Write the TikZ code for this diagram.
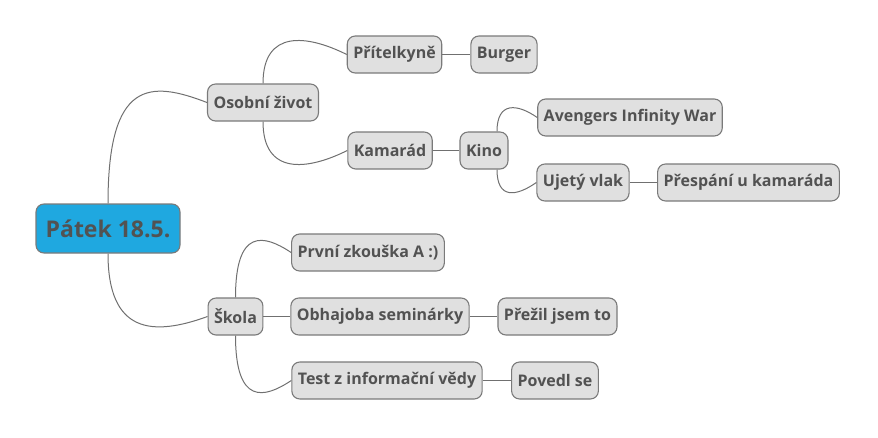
\documentclass[tikz,border=0pt]{standalone}
\usepackage{fontspec}
\setmainfont{Open Sans}
\definecolor{nodefill}{HTML}{E0E0E0}
\definecolor{nodeline}{HTML}{7A7A7A}
\definecolor{rootfill}{HTML}{1FA8E0}
\definecolor{textgray}{HTML}{525252}
\definecolor{linkgray}{HTML}{707070}
\tikzset{
  topic/.style={draw=nodeline, fill=nodefill, line width=1.1pt, rounded corners=8pt,
    text=textgray, font=\bfseries\fontsize{16}{18}\selectfont,
    minimum height=37pt, inner xsep=6pt},
  roottopic/.style={topic, fill=rootfill, minimum height=49pt, minimum width=144pt,
    font=\bfseries\fontsize{23}{26}\selectfont},
  link/.style={draw=linkgray, line width=1pt},
}
% curved branch: start point, child, first control length, second control (x,y)
\newcommand{\branch}[5]{%
  \draw[link] (#1) .. controls +(0,#3) and +(#4,#5) .. (#2.west);}

\begin{document}
\begin{tikzpicture}[x=1pt, y=-1pt]
\useasboundingbox (0,0) rectangle (878,437);

% ---- topics ----
\node[roottopic] (patek) at (108,228.5) {Pátek 18.5.};

\node[topic] (osobni) at (263,102.5) {Osobní život};
\node[topic] (pritelkyne) at (394.5,54.5) {Přítelkyně};
\node[topic] (burger) at (504,54.5) {Burger};
\node[topic] (kamarad) at (390,150.5) {Kamarád};
\node[topic] (kino) at (484,150.5) {Kino};
\node[topic] (avengers) at (630,117.5) {Avengers Infinity War};
\node[topic] (vlak) at (583,182.5) {Ujetý vlak};
\node[topic] (prespani) at (748.5,182.5) {Přespání u kamaráda};

\node[topic] (skola) at (235.5,316.5) {Škola};
\node[topic] (zkouska) at (368,252.5) {První zkouška A :)};
\node[topic] (obhajoba) at (380,316.5) {Obhajoba seminárky};
\node[topic] (prezil) at (557.5,316.5) {Přežil jsem to};
\node[topic] (test) at (387,380.5) {Test z informační vědy};
\node[topic] (povedl) at (555,380.5) {Povedl se};

% ---- branches ----
\branch{patek.north}{osobni}{-124}{-57}{-22}
\branch{patek.south}{skola}{80}{-55}{20}
\branch{osobni.north}{pritelkyne}{-54}{-40}{-20}
\branch{osobni.south}{kamarad}{54}{-40}{20}
\branch{[xshift=13pt]kino.north}{avengers}{-30}{-20}{-14}
\branch{[xshift=13pt]kino.south}{vlak}{30}{-20}{14}
\branch{skola.north}{zkouska}{-70}{-27}{-18}
\branch{skola.south}{test}{70}{-27}{18}

\draw[link] (pritelkyne.east) -- (burger.west);
\draw[link] (kamarad.east) -- (kino.west);
\draw[link] (vlak.east) -- (prespani.west);
\draw[link] (skola.east) -- (obhajoba.west);
\draw[link] (obhajoba.east) -- (prezil.west);
\draw[link] (test.east) -- (povedl.west);

\end{tikzpicture}
\end{document}
